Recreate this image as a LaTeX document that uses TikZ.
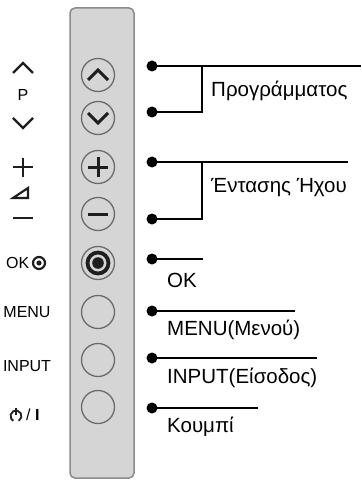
\documentclass[tikz,border=0pt]{standalone}
\usepackage{fontspec}
\setmainfont{Liberation Sans}
\newfontfamily\rfontfam{Liberation Sans}
\newfontfamily\lfontfam{Liberation Sans}
\definecolor{panelfill}{HTML}{D5D5D5}
\definecolor{paneledge}{HTML}{8C8C8C}
\definecolor{btnedge}{HTML}{6A6A6A}
\definecolor{icondark}{HTML}{1E1E1E}
\begin{document}
\begin{tikzpicture}[x=1pt,y=-1pt,
  btn/.style={circle, draw=btnedge, line width=1.3pt, minimum size=33pt, inner sep=0pt},
  dotnode/.style={circle, fill=black, minimum size=11pt, inner sep=0pt},
  conn/.style={line width=1.6pt, draw=black},
  icon/.style={line width=3pt, draw=icondark},
  licon/.style={line width=2.2pt, draw=icondark},
  rlabel/.style={anchor=base west, inner sep=0pt, font=\rfontfam\fontsize{20.5}{24}\selectfont},
  llabel/.style={inner sep=0pt, font=\lfontfam\fontsize{16}{19}\selectfont}]
\useasboundingbox (0,0) rectangle (361,481);
% panel
\fill[white] (0,0) rectangle (361,481);
\draw[fill=panelfill, draw=paneledge, line width=1.5pt, rounded corners=5pt] (70,8) rectangle (134,478);
% buttons
\node[btn] (bup) at (98,75) {};
\node[btn] (bdown) at (98,118) {};
\node[btn] (bplus) at (98,167) {};
\node[btn] (bminus) at (98,214) {};
\node[btn] (bok) at (98,263) {};
\node[btn] (bmenu) at (98,312) {};
\node[btn] (binput) at (98,360) {};
\node[btn] (bpower) at (98,407) {};
% button icons
\draw[icon] ([shift={(-10,5)}]bup.center) -- ([shift={(0,-5)}]bup.center) -- ([shift={(10,5)}]bup.center);
\draw[icon] ([shift={(-10,-5)}]bdown.center) -- ([shift={(0,5)}]bdown.center) -- ([shift={(10,-5)}]bdown.center);
\draw[icon] ([shift={(-10,0)}]bplus.center) -- ([shift={(10,0)}]bplus.center);
\draw[icon] ([shift={(0,-10)}]bplus.center) -- ([shift={(0,10)}]bplus.center);
\draw[icon] ([shift={(-10,0)}]bminus.center) -- ([shift={(10,0)}]bminus.center);
\draw[icondark, line width=3.8pt] (bok.center) circle[radius=10.5];
\fill[icondark] (bok.center) circle[radius=5.8];
% left labels
\draw[licon] (13,73) -- (23,63) -- (33,73);
\node[llabel] (lP) at (23,95) {P};
\draw[licon] (13,118) -- (23,128) -- (33,118);
\draw[licon] (13,167) -- (33,167);
\draw[licon] (23,158) -- (23,177);
\draw[licon, line join=miter] (13,198) -- (28,188) -- (28,198) -- cycle;
\draw[licon] (13,218) -- (33,218);
\node[llabel, anchor=west] (lok) at (6,263) {OK};
\draw[licon] (39,263) circle[radius=6];
\fill[icondark] (39,263) circle[radius=2.6];
\node[llabel] (lmenu) at (27,312) {MENU};
\node[llabel] (linput) at (27,366) {INPUT};
\draw[line width=1.8pt, icondark] (16,416) ++(60:5.5) arc[start angle=60, end angle=-240, radius=5.5];
\draw[line width=1.8pt, icondark] (16,408) -- (16,415);
\node[llabel, anchor=west] (lpow) at (26,415) {/ \textbf{I}};
% dots
\node[dotnode] (d1) at (152,66) {};
\node[dotnode] (d2) at (152,112) {};
\node[dotnode] (d3) at (152,162) {};
\node[dotnode] (d4) at (152,219) {};
\node[dotnode] (d5) at (152,259) {};
\node[dotnode] (d6) at (152,311) {};
\node[dotnode] (d7) at (152,358) {};
\node[dotnode] (d8) at (152,408) {};
% connector ends
\coordinate (e1) at (361,66);
\coordinate (j1) at (202,66);
\coordinate (e3) at (348,162);
\coordinate (j3) at (202,162);
\coordinate (e5) at (203,259);
\coordinate (e6) at (295,311);
\coordinate (e7) at (317,358);
\coordinate (e8) at (258,408);
\draw[conn] (d1.center) -- (e1);
\draw[conn] (d2.center) -| (j1);
\draw[conn] (d3.center) -- (e3);
\draw[conn] (d4.center) -| (j3);
\draw[conn] (d5.center) -- (e5);
\draw[conn] (d6.center) -- (e6);
\draw[conn] (d7.center) -- (e7);
\draw[conn] (d8.center) -- (e8);
% right labels
\node[rlabel] (tprog) at (211,97) {Προγράμματος};
\node[rlabel] (tvol) at (211,192) {Έντασης Ήχου};
\node[rlabel] (tok) at (167,287) {OK};
\node[rlabel] (tmenu) at (167,335) {MENU(Μενού)};
\node[rlabel] (tinput) at (167,383) {INPUT(Είσοδος)};
\node[rlabel] (tkey) at (167,432) {Κουμπί};
\end{tikzpicture}
\end{document}
